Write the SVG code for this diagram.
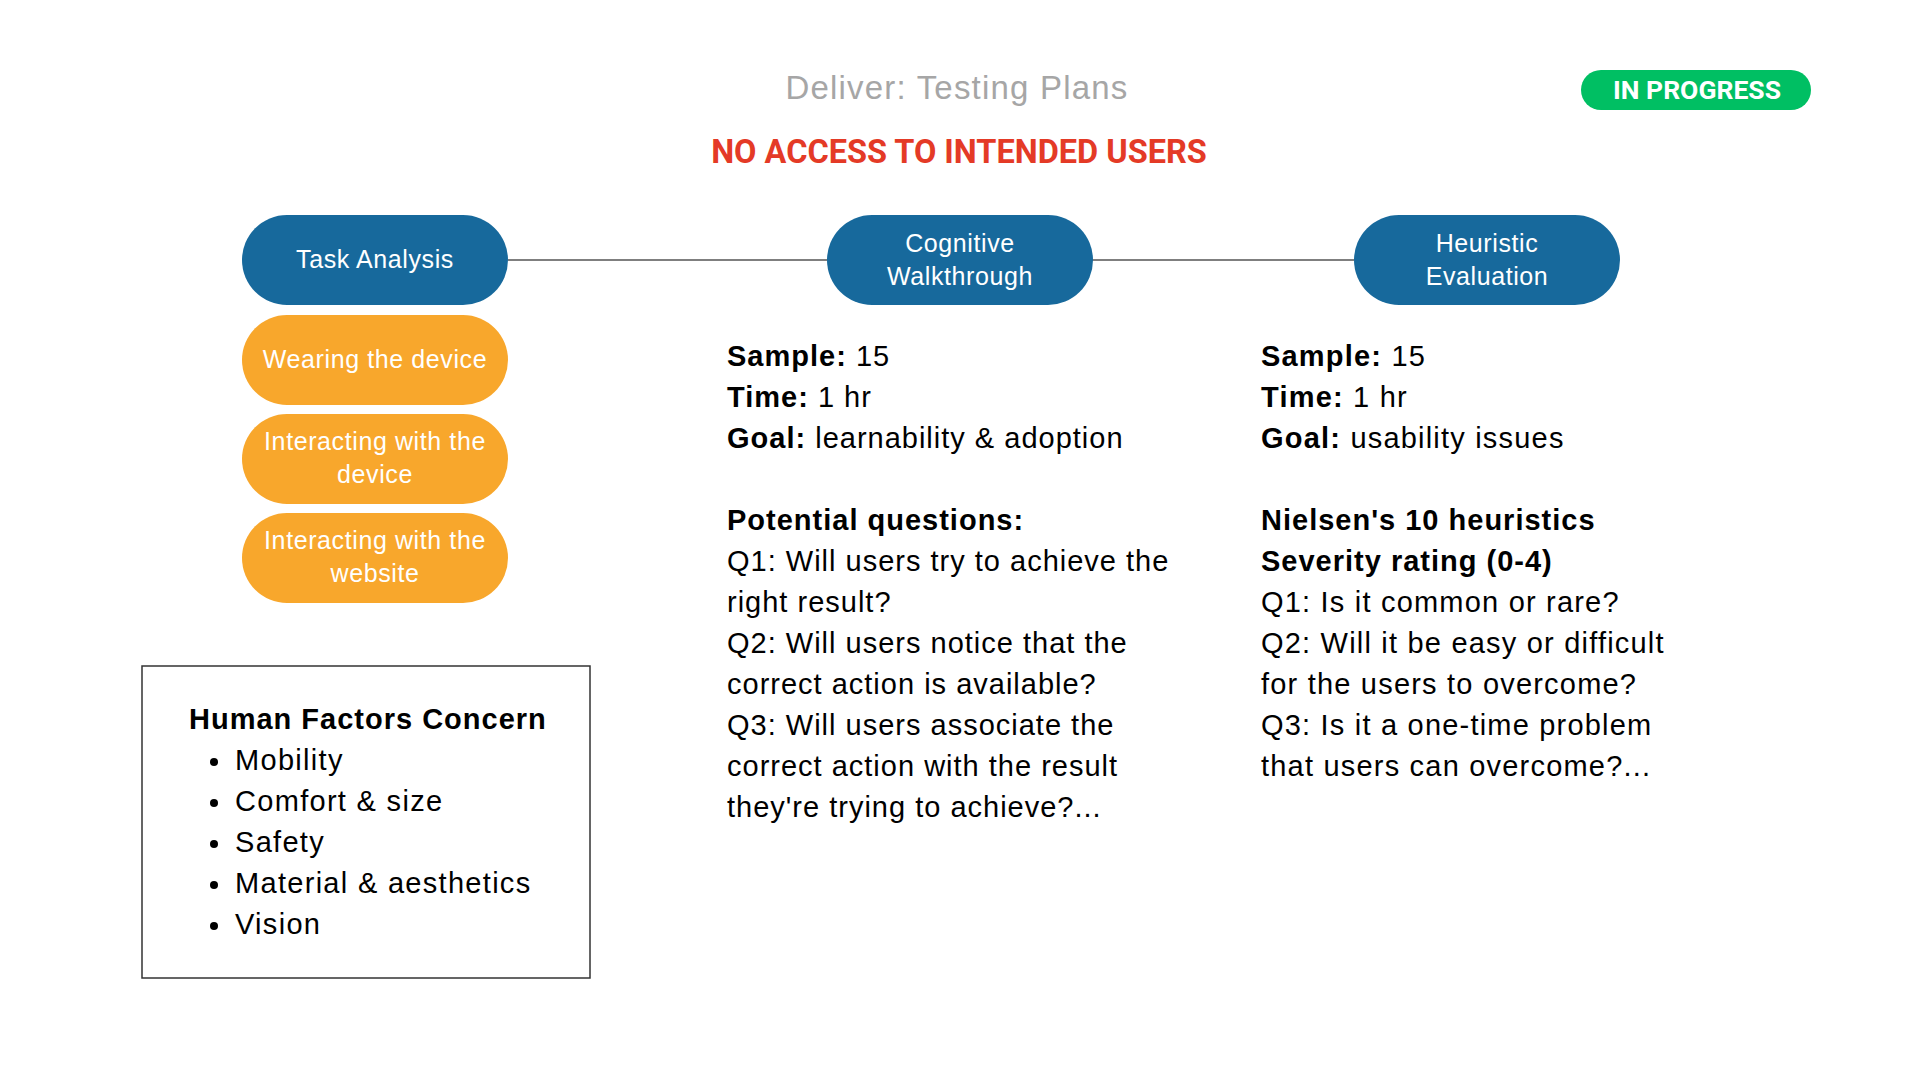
<svg xmlns="http://www.w3.org/2000/svg" width="1920" height="1080" viewBox="0 0 1920 1080">
<style>
.pill-blue{fill:#17699C}
.pill-orange{fill:#F8A72C}
.ptext{font-family:"Liberation Sans",Arial,sans-serif;font-size:25px;letter-spacing:0.6px;fill:#ffffff;text-anchor:middle}
.body{font-family:"Liberation Sans",Arial,sans-serif;font-size:29px;letter-spacing:1px;fill:#000000}
.wide{letter-spacing:1.2px}
.list{letter-spacing:1.3px}
.b{font-weight:bold}
.conn{stroke:#555555;stroke-width:1.5;fill:none}
</style>
<rect width="1920" height="1080" fill="#ffffff"/>
<g id="title">
<text x="957" y="99" font-family="Liberation Sans, Arial, sans-serif" font-size="33" letter-spacing="1.2" fill="#A6A6A6" text-anchor="middle">Deliver: Testing Plans</text>
</g>
<g id="status">
<rect x="1581" y="70" width="230" height="40" rx="20" fill="#00BF63"/>
<text x="1697" y="99" font-family="Roboto, sans-serif" font-weight="bold" font-size="26.5" fill="#ffffff" text-anchor="middle">IN PROGRESS</text>
</g>
<g id="warning">
<text x="959" y="163" font-family="Roboto, sans-serif" font-weight="bold" font-size="32.5" fill="#E43A26" text-anchor="middle">NO ACCESS TO INTENDED USERS</text>
</g>
<g id="connectors">
<line class="conn" x1="508" y1="260" x2="827" y2="260"/>
<line class="conn" x1="1092" y1="260" x2="1354" y2="260"/>
</g>
<g id="task-analysis">
<rect class="pill-blue" x="242" y="215" width="266" height="90" rx="45"/>
<text class="ptext" x="375" y="268">Task Analysis</text>
</g>
<g id="cognitive-walkthrough">
<rect class="pill-blue" x="827" y="215" width="266" height="90" rx="45"/>
<text class="ptext" x="960" y="252">Cognitive</text>
<text class="ptext" x="960" y="285">Walkthrough</text>
</g>
<g id="heuristic-evaluation">
<rect class="pill-blue" x="1354" y="215" width="266" height="90" rx="45"/>
<text class="ptext" x="1487" y="252">Heuristic</text>
<text class="ptext" x="1487" y="285">Evaluation</text>
</g>
<g id="wearing-device">
<rect class="pill-orange" x="242" y="315" width="266" height="90" rx="45"/>
<text class="ptext" x="375" y="368">Wearing the device</text>
</g>
<g id="interacting-device">
<rect class="pill-orange" x="242" y="414" width="266" height="90" rx="45"/>
<text class="ptext" x="375" y="450">Interacting with the</text>
<text class="ptext" x="375" y="483">device</text>
</g>
<g id="interacting-website">
<rect class="pill-orange" x="242" y="513" width="266" height="90" rx="45"/>
<text class="ptext" x="375" y="549">Interacting with the</text>
<text class="ptext" x="375" y="582">website</text>
</g>
<g id="human-factors">
<rect x="142" y="666" width="448" height="312" fill="none" stroke="#333333" stroke-width="1.5"/>
<text class="body b" x="189" y="729">Human Factors Concern</text>
<g fill="#000000">
<circle cx="214" cy="762" r="4"/>
<circle cx="214" cy="803" r="4"/>
<circle cx="214" cy="844" r="4"/>
<circle cx="214" cy="885" r="4"/>
<circle cx="214" cy="926" r="4"/>
</g>
<text class="body list" x="235" y="770">Mobility</text>
<text class="body list" x="235" y="811">Comfort &amp; size</text>
<text class="body list" x="235" y="852">Safety</text>
<text class="body list" x="235" y="893">Material &amp; aesthetics</text>
<text class="body list" x="235" y="934">Vision</text>
</g>
<g id="cognitive-details">
<text class="body" x="727" y="366"><tspan class="b">Sample:</tspan> 15</text>
<text class="body" x="727" y="407"><tspan class="b">Time:</tspan> 1 hr</text>
<text class="body" x="727" y="448"><tspan class="b">Goal:</tspan> learnability &amp; adoption</text>
<text class="body b" x="727" y="530">Potential questions:</text>
<text class="body" x="727" y="571">Q1: Will users try to achieve the</text>
<text class="body" x="727" y="612">right result?</text>
<text class="body" x="727" y="653">Q2: Will users notice that the</text>
<text class="body" x="727" y="694">correct action is available?</text>
<text class="body" x="727" y="735">Q3: Will users associate the</text>
<text class="body" x="727" y="776">correct action with the result</text>
<text class="body" x="727" y="817">they're trying to achieve?...</text>
</g>
<g id="heuristic-details">
<text class="body wide" x="1261" y="366"><tspan class="b">Sample:</tspan> 15</text>
<text class="body wide" x="1261" y="407"><tspan class="b">Time:</tspan> 1 hr</text>
<text class="body wide" x="1261" y="448"><tspan class="b">Goal:</tspan> usability issues</text>
<text class="body b" x="1261" y="530">Nielsen's 10 heuristics</text>
<text class="body b" x="1261" y="571">Severity rating (0-4)</text>
<text class="body wide" x="1261" y="612">Q1: Is it common or rare?</text>
<text class="body wide" x="1261" y="653">Q2: Will it be easy or difficult</text>
<text class="body wide" x="1261" y="694">for the users to overcome?</text>
<text class="body wide" x="1261" y="735">Q3: Is it a one-time problem</text>
<text class="body wide" x="1261" y="776">that users can overcome?...</text>
</g>
</svg>
